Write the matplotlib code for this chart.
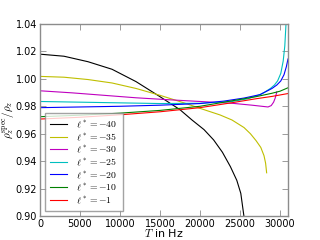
import matplotlib
matplotlib.use("Agg")
import matplotlib.pyplot as plt

plt.rcParams["mathtext.fontset"] = "cm"
plt.rcParams["font.size"] = 7

# values, T in Hz
T_40 = [0, 3000, 6000, 9000, 12000, 15000, 17500, 19000, 20500, 21700, 22800, 23800, 24600, 25100, 25500]
v_40 = [1.0180, 1.0165, 1.0125, 1.0070, 0.9980, 0.9870, 0.9775, 0.9700, 0.9630, 0.9555, 0.9465, 0.9360, 0.9260, 0.9165, 0.8995]

T_35 = [0, 3000, 6000, 9000, 12000, 15000, 18000, 20000, 22500, 24000, 25500, 26300, 27000, 27600, 28000, 28200, 28330]
v_35 = [1.0018, 1.0012, 0.9995, 0.9970, 0.9930, 0.9880, 0.9825, 0.9785, 0.9737, 0.9700, 0.9645, 0.9600, 0.9550, 0.9500, 0.9440, 0.9385, 0.9315]

T_30 = [0, 4000, 8000, 12000, 16000, 20000, 24000, 26500, 28500, 28900, 29200, 29400, 29600]
v_30 = [0.9913, 0.9898, 0.9880, 0.9862, 0.9848, 0.9835, 0.9822, 0.9808, 0.9795, 0.9805, 0.9830, 0.9860, 0.9905]

T_25 = [0, 5000, 10000, 15000, 20000, 24000, 26000, 27500, 28000, 28800, 29300, 29700, 30100, 30400, 30600, 30750]
v_25 = [0.9835, 0.9830, 0.9825, 0.9820, 0.9822, 0.9835, 0.9855, 0.9885, 0.9900, 0.9930, 0.9955, 0.9985, 1.0040, 1.0130, 1.0240, 1.0400]

T_20 = [0, 5000, 10000, 15000, 20000, 23000, 25500, 27500, 29000, 29600, 30100, 30500, 30800, 31000]
v_20 = [0.9790, 0.9795, 0.9800, 0.9808, 0.9820, 0.9838, 0.9860, 0.9885, 0.9930, 0.9955, 0.9985, 1.0030, 1.0090, 1.0145]

T_10 = [0, 5000, 10000, 15000, 20000, 24000, 27000, 29000, 30000, 31000]
v_10 = [0.9724, 0.9735, 0.9750, 0.9770, 0.9800, 0.9840, 0.9870, 0.9895, 0.9910, 0.9935]

T_1 = [0, 5000, 10000, 15000, 20000, 24000, 27000, 29000, 31000]
v_1 = [0.9707, 0.9720, 0.9738, 0.9760, 0.9790, 0.9826, 0.9855, 0.9872, 0.9893]

labels = [r"$\ell^* = -40$", r"$\ell^* = -35$", r"$\ell^* = -30$", r"$\ell^* = -25$",
          r"$\ell^* = -20$", r"$\ell^* = -10$", r"$\ell^* = -1$"]
colors = ["k", (0.75, 0.75, 0), (0.75, 0, 0.75), (0, 0.75, 0.75), "b", (0, 0.5, 0), "r"]
curves = [(T_40, v_40), (T_35, v_35), (T_30, v_30), (T_25, v_25), (T_20, v_20), (T_10, v_10), (T_1, v_1)]

fig = plt.figure(figsize=(3.2, 2.4), dpi=100)
ax = fig.add_axes([0.125, 0.1, 0.775, 0.8])

for (t, v), c, lab in zip(curves, colors, labels):
    ax.plot(t, v, color=c, lw=0.8, label=lab)

ax.set_xlim(0, 31000)
ax.set_ylim(0.90, 1.04)
ax.set_xticks([0, 5000, 10000, 15000, 20000, 25000, 30000])
ax.set_yticks([0.90, 0.92, 0.94, 0.96, 0.98, 1.00, 1.02, 1.04])
ax.set_yticklabels(["%.2f" % y for y in ax.get_yticks()])
ax.tick_params(direction="in", top=True, right=True, length=4, width=0.6,
               color="0.55", labelsize=7, pad=2)
for s in ax.spines.values():
    s.set_color("0.55")
    s.set_linewidth(1.0)

ax.set_xlabel(r"$T$ in Hz", fontsize=8, labelpad=-1)
ax.set_ylabel(r"$\rho_z^{\rm spec}/\rho_z$", fontsize=8, labelpad=0)

leg = ax.legend(loc="lower left", fontsize=7, fancybox=False, handlelength=1.7,
                labelspacing=0.12, borderpad=0.55, handletextpad=1.0,
                borderaxespad=0.5)
leg.get_frame().set_edgecolor("0.55")
leg.get_frame().set_linewidth(1.0)

fig.savefig("out.png", dpi=100)
